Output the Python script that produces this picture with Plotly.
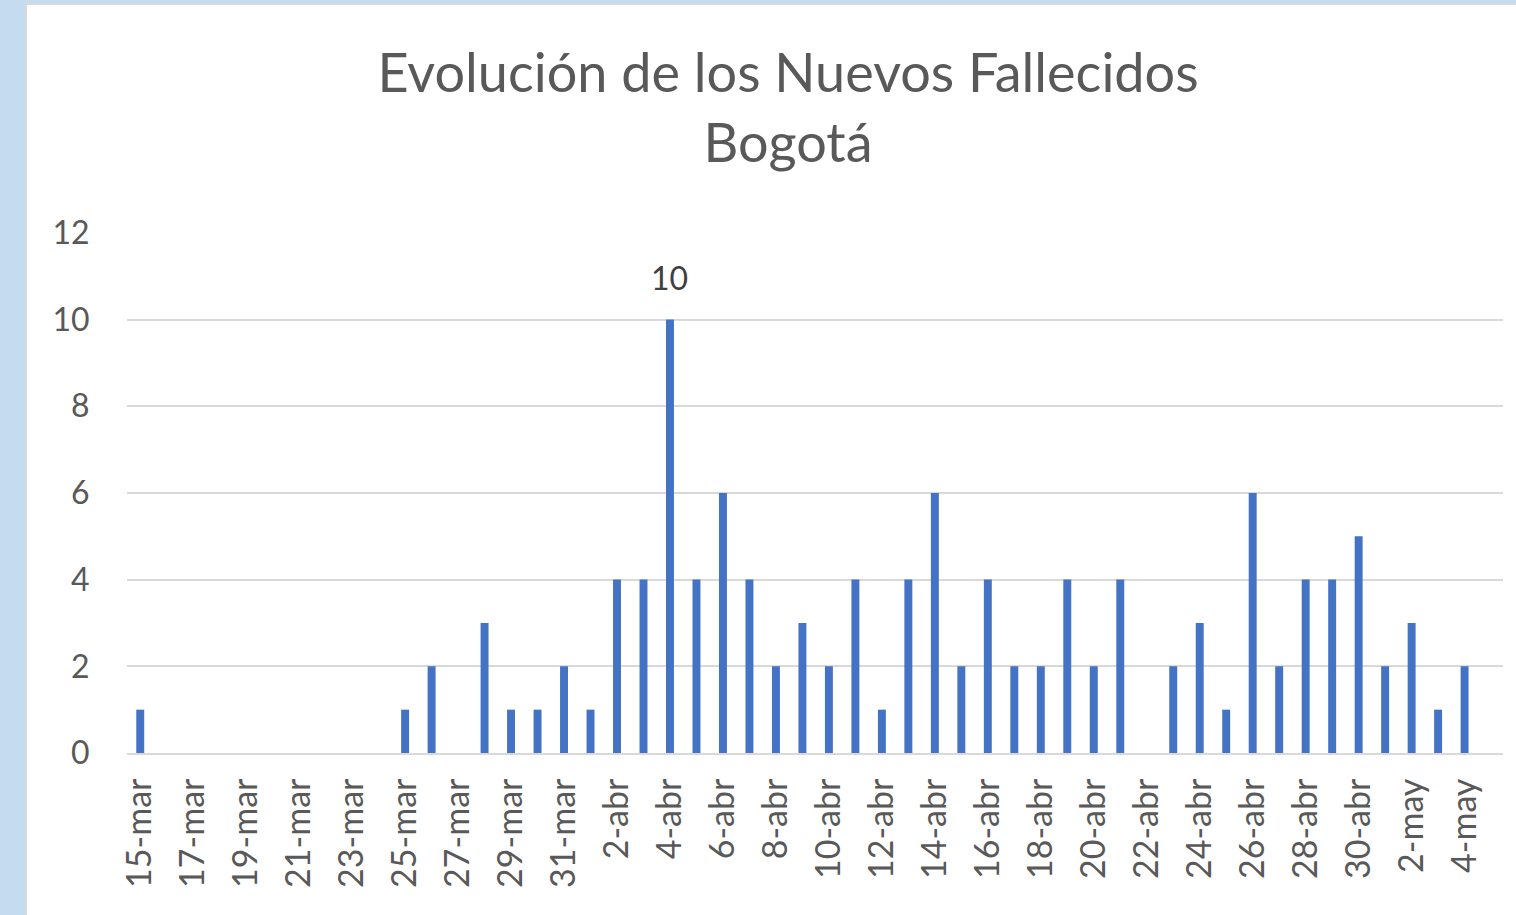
import plotly.graph_objects as go

dates = (["%d-mar" % d for d in range(15, 32)] +
         ["%d-abr" % d for d in range(1, 31)] +
         ["%d-may" % d for d in range(1, 5)])

deaths = [1, 0, 0, 0, 0, 0, 0, 0, 0, 0, 1, 2, 0, 3, 1, 1, 2,
          1, 4, 4, 10, 4, 6, 4, 2, 3, 2, 4, 1, 4, 6, 2, 4, 2, 2, 4, 2, 4, 0,
          2, 3, 1, 6, 2, 4, 4, 5,
          2, 3, 1, 2]

label_date = "4-abr"
tick_labels = dates[::2]

W, H = 1516, 915
L, R, T, B = 127, 13, 232, 162
pw, ph = W - L - R, H - T - B

def px_x(p):
    return (p - L) / pw

def px_y(p):
    return (H - B - p) / ph

fig = go.Figure()
fig.add_trace(go.Bar(
    x=dates, y=deaths,
    marker=dict(color="#4472c4", line=dict(width=0)),
))

label_val = deaths[dates.index(label_date)]
fig.add_annotation(x=label_date, y=label_val, text=str(label_val),
                   showarrow=False, yanchor="bottom", yshift=21,
                   font=dict(size=32, color="#404040", family="Lato"))

fig.add_shape(type="rect", xref="paper", yref="paper", layer="below",
              x0=px_x(26), x1=px_x(W + 10), y0=px_y(H + 10), y1=px_y(4),
              fillcolor="white", line=dict(color="#d9d9d9", width=2))

fig.update_layout(
    width=W, height=H,
    margin=dict(l=L, r=R, t=T, b=B),
    paper_bgcolor="#c5dbef",
    plot_bgcolor="rgba(0,0,0,0)",
    bargap=0.7,
    showlegend=False,
    title=dict(text="Evolución de los Nuevos Fallecidos<br>Bogotá",
               x=788 / W, xanchor="center", xref="container",
               y=1 - 92 / H, yanchor="top", yref="container",
               font=dict(family="Lato", size=54, color="#595959")),
    font=dict(family="Lato", color="#595959"),
)
fig.update_xaxes(type="category", range=[-0.5, 51.45],
                 tickmode="array", tickvals=tick_labels, ticktext=tick_labels,
                 tickangle=-90, tickfont=dict(size=34, color="#595959"),
                 showline=True, linecolor="#d9d9d9", linewidth=2,
                 ticks="outside", ticklen=10, tickcolor="rgba(0,0,0,0)",
                 showgrid=False)
fig.update_yaxes(range=[0, 12.02], tickvals=[0, 2, 4, 6, 8, 10, 12],
                 showgrid=True, gridcolor="#d9d9d9",
                 gridwidth=2, zeroline=False,
                 tickfont=dict(size=32, color="#595959"),
                 ticks="outside", ticklen=30, tickcolor="rgba(0,0,0,0)")

fig.write_html("out.html", config={"displayModeBar": False},
               post_script="document.body.style.margin='0px';")
